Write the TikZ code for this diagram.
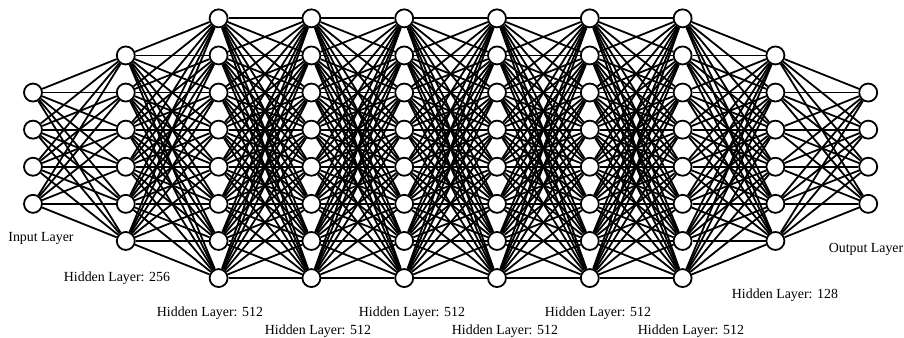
\documentclass[tikz,border=0pt]{standalone}
\usepackage{fontspec}
\setmainfont{Liberation Serif}
\pgfdeclarelayer{bg}
\pgfsetlayers{bg,main}
\begin{document}
\begin{tikzpicture}[x=1pt,y=-1pt,
  neuron/.style={circle,draw=black,fill=white,line width=1.8pt,minimum size=18pt,inner sep=0pt},
  edge/.style={line width=1.8pt,draw=black},
  lbl/.style={font=\fontsize{13.9}{16}\selectfont,inner sep=0pt}]
\useasboundingbox (0,0) rectangle (904,337);
\foreach \l/\nn in {0/4,1/6,2/8,3/8,4/8,5/8,6/8,7/8,8/6,9/4}{
  \foreach \i in {1,...,\nn}{
    \node[neuron] (n-\l-\i) at ({33+92.8*\l},{148.2+(\i-(\nn+1)/2)*37.1}) {};
  }
}
\begin{pgfonlayer}{bg}
\foreach \l/\nn/\mm in {0/4/6,1/6/8,2/8/8,3/8/8,4/8/8,5/8/8,6/8/8,7/8/6,8/6/4}{
  \pgfmathtruncatemacro\k{\l+1}
  \foreach \i in {1,...,\nn}{
    \foreach \j in {1,...,\mm}{
      \draw[edge] (n-\l-\i) -- (n-\k-\j);
    }
  }
}
\end{pgfonlayer}
\node[lbl] (l0) at (41,238) {Input Layer};
\node[lbl] (l1) at (117,278) {Hidden Layer: 256};
\node[lbl] (l2) at (210,313) {Hidden Layer: 512};
\node[lbl] (l3) at (318,331) {Hidden Layer: 512};
\node[lbl] (l4) at (412,313) {Hidden Layer: 512};
\node[lbl] (l5) at (505,331) {Hidden Layer: 512};
\node[lbl] (l6) at (598,313) {Hidden Layer: 512};
\node[lbl] (l7) at (691,331) {Hidden Layer: 512};
\node[lbl] (l8) at (785,295) {Hidden Layer: 128};
\node[lbl] (l9) at (866,249) {Output Layer};
\end{tikzpicture}
\end{document}
